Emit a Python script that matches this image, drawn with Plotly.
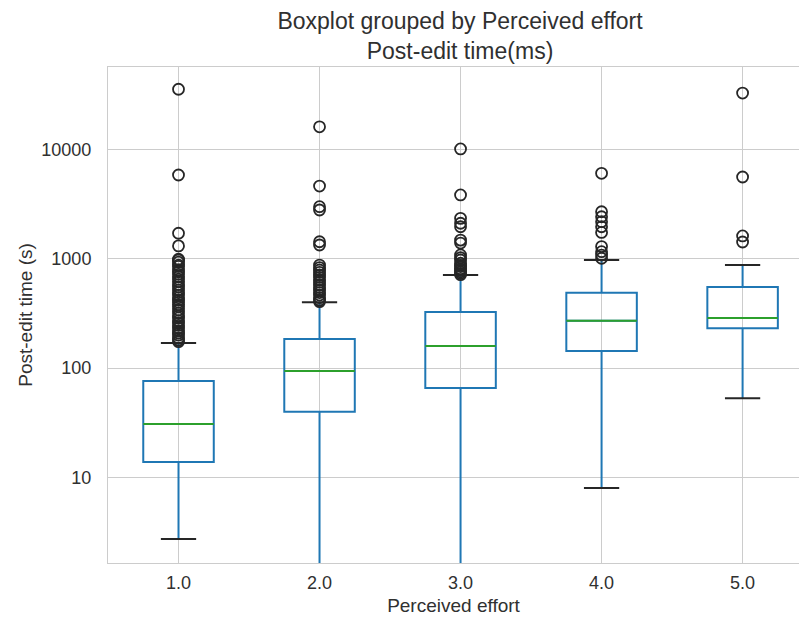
import plotly.graph_objects as go

# ---- data ----
categories = [1.0, 2.0, 3.0, 4.0, 5.0]
tick_labels = ["1.0", "2.0", "3.0", "4.0", "5.0"]

q1 = [13.8, 39.7, 65.6, 143, 231]
median = [30.8, 94, 159, 270, 287]
q3 = [76, 184, 325, 488, 551]
lower_whisker = [2.72, 0.5, 0.5, 7.98, 53]
upper_whisker = [169, 399, 709, 973, 875]

outliers_1 = [35500, 5830, 1710, 1310, 990, 973, 930, 875, 850, 788, 760, 720, 684, 650,
              616, 580, 550, 517, 490, 465, 440, 419, 400, 380, 364, 340, 318, 300, 287,
              270, 258, 245, 232, 220, 209, 200, 188, 180, 174]
outliers_2 = [16100, 4620, 2990, 2790, 1430, 1335, 875, 830, 788, 750, 710, 675, 640, 610,
              575, 545, 517, 490, 465, 440, 419, 405]
outliers_3 = [10100, 3830, 2340, 2110, 1960, 1480, 1390, 1082, 1020, 973, 909, 870, 848,
              810, 788, 760, 735, 715]
outliers_4 = [6040, 2690, 2420, 2180, 1960, 1740, 1290, 1160, 1080, 1010]
outliers_5 = [32800, 5590, 1615, 1422]
outliers = [outliers_1, outliers_2, outliers_3, outliers_4, outliers_5]

y_tick_vals = [10, 100, 1000, 10000]
y_tick_text = ["10", "100", "1000", "10000"]

title_text = "Boxplot grouped by Perceived effort<br>Post-edit time(ms)"
x_title = "Perceived effort"
y_title = "Post-edit time (s)"

# ---- styles ----
BLUE = "#1f77b4"
GREEN = "#2ca02c"
BLACK = "#262626"
GRID = "#cccccc"
TEXT = "#303030"
FONT = "Liberation Sans, Arial, sans-serif"
BOX_W = 0.5
CAP_W = 0.25

fig = go.Figure()

fig.add_trace(go.Box(
    x=categories, q1=q1, median=median, q3=q3,
    lowerfence=lower_whisker, upperfence=upper_whisker,
    width=BOX_W, whiskerwidth=0, boxpoints=False,
    line=dict(color=BLUE, width=2), fillcolor="rgba(0,0,0,0)",
    hoverinfo="skip", showlegend=False,
))

# medians (green)
mx, my = [], []
for c, m in zip(categories, median):
    mx += [c - BOX_W / 2, c + BOX_W / 2, None]
    my += [m, m, None]
fig.add_trace(go.Scatter(x=mx, y=my, mode="lines",
                         line=dict(color=GREEN, width=2), showlegend=False, hoverinfo="skip"))

# caps (black)
cx, cy = [], []
for c, lo, hi in zip(categories, lower_whisker, upper_whisker):
    cx += [c - CAP_W / 2, c + CAP_W / 2, None, c - CAP_W / 2, c + CAP_W / 2, None]
    cy += [lo, lo, None, hi, hi, None]
fig.add_trace(go.Scatter(x=cx, y=cy, mode="lines",
                         line=dict(color=BLACK, width=2), showlegend=False, hoverinfo="skip"))

# fliers
fx, fy = [], []
for c, vals in zip(categories, outliers):
    fx += [c] * len(vals)
    fy += vals
fig.add_trace(go.Scatter(x=fx, y=fy, mode="markers",
                         marker=dict(symbol="circle-open", size=11, color=BLACK,
                                     line=dict(width=1.8, color=BLACK)),
                         showlegend=False, hoverinfo="skip"))

fig.update_layout(
    width=799, height=620,
    margin=dict(l=108, r=0, t=67, b=57),
    paper_bgcolor="white", plot_bgcolor="white",
    font=dict(family=FONT, color=TEXT, size=17),
    title=dict(text=title_text, x=460 / 799, xref="container", xanchor="center",
               y=1 - 29 / 620, yref="container", yanchor="top",
               font=dict(size=23, color=TEXT, family=FONT)),
)

fig.update_xaxes(
    range=[0.5, 5.4], tickvals=categories, ticktext=tick_labels,
    showgrid=True, gridcolor=GRID, gridwidth=1, zeroline=False,
    showline=True, linecolor=GRID, linewidth=1, mirror=True,
    ticks="", ticklabelstandoff=3, tickfont=dict(size=18),
    title=dict(text=x_title, font=dict(size=19), standoff=7),
)
fig.update_yaxes(
    type="log", range=[0.216, 4.754], tickvals=y_tick_vals, ticktext=y_tick_text,
    showgrid=True, gridcolor=GRID, gridwidth=1, zeroline=False,
    showline=True, linecolor=GRID, linewidth=1, mirror=False,
    ticks="", ticklabelstandoff=12, tickfont=dict(size=18),
    title=dict(text=y_title, font=dict(size=19), standoff=3),
)

fig.write_html("out.html")
